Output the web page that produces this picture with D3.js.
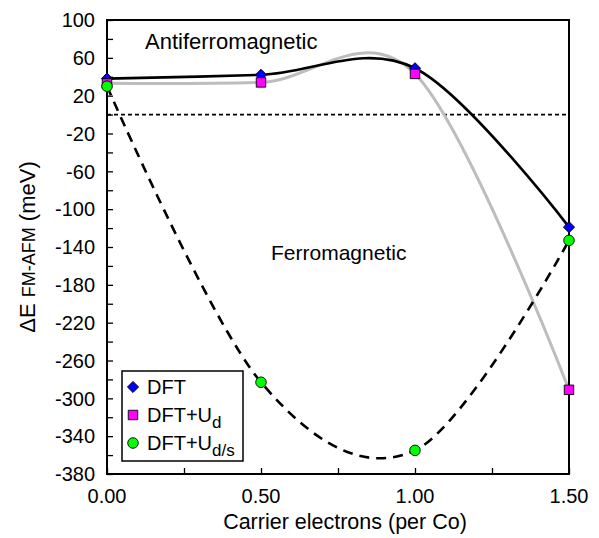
<!DOCTYPE html>
<html><head><meta charset="utf-8">
<script src="https://cdn.jsdelivr.net/npm/d3@7"></script>
<style>
html,body{margin:0;padding:0;background:#fff;}
svg{display:block;font-family:"Liberation Sans",Arial,Helvetica,sans-serif;}
</style></head>
<body><svg id="chart" width="599" height="538"></svg>
<script>
// ---- data ----
const carriers = [0, 0.5, 1.0, 1.5];
const dft     = [38, 42, 49, -119];
const dftUd   = [33, 34, 43, -291];
const dftUds  = [30, -283, -355, -133];
const xTickLabels = [0, 0.5, 1.0, 1.5];
const xMinorTicks = [0.25, 0.75, 1.25];
const yTickLabels = [100, 60, 20, -20, -60, -100, -140, -180, -220, -260, -300, -340, -380];
const yMinorTicks = [80, 40, 0, -40, -80, -120, -160, -200, -240, -280, -320, -360];
const legendNames = [["DFT", ""], ["DFT+U", "d"], ["DFT+U", "d/s"]];

// ---- layout ----
const svg = d3.select("#chart");
const L = 107, R = 569, T = 20, B = 474;
const x = d3.scaleLinear().domain([0, 1.5]).range([L, R]);
const y = d3.scaleLinear().domain([-380, 100]).range([B, T]);
const curve = d3.curveCardinal.tension(0);

// zero dotted line
svg.append("line").attr("x1", L).attr("x2", R).attr("y1", y(0)).attr("y2", y(0))
  .attr("stroke", "#000").attr("stroke-width", 1.6).attr("stroke-dasharray", "4,3");

const line = d3.line().x((d, i) => x(carriers[i])).y(d => y(d)).curve(curve);

svg.append("path").attr("d", line(dftUd)).attr("fill", "none")
  .attr("stroke", "#bdbdbd").attr("stroke-width", 3);
svg.append("path").attr("d", line(dft)).attr("fill", "none")
  .attr("stroke", "#000").attr("stroke-width", 2.6);
svg.append("path").attr("d", line(dftUds)).attr("fill", "none")
  .attr("stroke", "#000").attr("stroke-width", 2.6).attr("stroke-dasharray", "10,7");

// axes (frame)
const axG = svg.append("g");
axG.append("g").attr("transform", `translate(0,${B})`)
  .call(d3.axisBottom(x).tickValues(xTickLabels.concat(xMinorTicks)).tickSize(-6).tickFormat(""))
  .call(g => g.select(".domain").remove());
axG.append("g").attr("transform", `translate(${L},0)`)
  .call(d3.axisLeft(y).tickValues(yTickLabels.concat(yMinorTicks)).tickSize(-6).tickFormat(""))
  .call(g => g.select(".domain").remove());
axG.selectAll(".tick line").attr("stroke", "#000").attr("stroke-width", 1.3);

svg.append("rect").attr("x", L).attr("y", T).attr("width", R - L).attr("height", B - T)
  .attr("fill", "none").attr("stroke", "#000").attr("stroke-width", 2);

// tick labels
svg.append("g").selectAll("text").data(xTickLabels).join("text")
  .attr("x", d => x(d)).attr("y", B + 29).attr("text-anchor", "middle")
  .attr("font-size", 20).text(d => d3.format(".2f")(d));
svg.append("g").selectAll("text").data(yTickLabels).join("text")
  .attr("x", L - 12).attr("y", d => y(d)).attr("dy", "0.36em").attr("text-anchor", "end")
  .attr("font-size", 20).text(d => d);

// axis titles
svg.append("text").attr("x", 345).attr("y", 529).attr("text-anchor", "middle")
  .attr("font-size", 21.5).text("Carrier electrons (per Co)");
const yt = svg.append("text").attr("transform", "translate(35,247) rotate(-90)")
  .attr("text-anchor", "middle");
yt.append("tspan").attr("font-size", 22).text("\u0394E ");
yt.append("tspan").attr("font-size", 18).text("FM-AFM");
yt.append("tspan").attr("font-size", 22).text(" (meV)");

// region labels
svg.append("text").attr("x", 145).attr("y", 49).attr("font-size", 22).text("Antiferromagnetic");
svg.append("text").attr("x", 271).attr("y", 260).attr("font-size", 21).text("Ferromagnetic");

// markers
const diamond = d3.symbol().type(d3.symbolSquare).size(62);
const square = d3.symbol().type(d3.symbolSquare).size(90);
const circle = d3.symbol().type(d3.symbolCircle).size(88);
const series = [
  {vals: dft, sym: diamond, fill: "#0000ff", rot: 45},
  {vals: dftUd, sym: square, fill: "#ff00ff", rot: 0},
  {vals: dftUds, sym: circle, fill: "#00ff00", rot: 0}
];
series.forEach(s => {
  svg.append("g").selectAll("path").data(s.vals).join("path")
    .attr("d", s.sym)
    .attr("transform", (d, i) => `translate(${x(carriers[i])},${y(d)}) rotate(${s.rot})`)
    .attr("fill", s.fill).attr("stroke", "#000").attr("stroke-width", 0.9);
});

// legend
const lg = svg.append("g");
lg.append("rect").attr("x", 122).attr("y", 371).attr("width", 121).attr("height", 90)
  .attr("fill", "#fff").attr("stroke", "#000").attr("stroke-width", 1.5);
const ly = [387, 415, 443];
series.forEach((s, i) => {
  lg.append("path").attr("d", s.sym).attr("transform", `translate(133,${ly[i]}) rotate(${s.rot})`)
    .attr("fill", s.fill).attr("stroke", "#000").attr("stroke-width", 0.9);
  const t = lg.append("text").attr("x", 147).attr("y", ly[i] + 7).attr("font-size", 20);
  t.append("tspan").text(legendNames[i][0]);
  if (legendNames[i][1]) t.append("tspan").attr("font-size", 17).attr("dy", 6).text(legendNames[i][1]);
});
</script></body></html>
